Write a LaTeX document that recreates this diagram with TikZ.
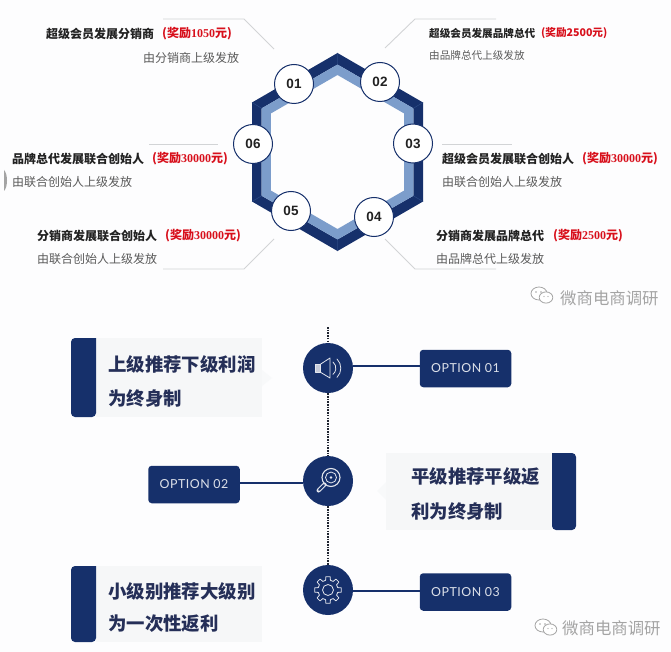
\documentclass[tikz,border=0pt]{standalone}
\usepackage{fontspec}
\setmainfont{Noto Sans CJK SC}
\newfontfamily\numfont{Liberation Serif}
\newfontfamily\badgefont{Liberation Sans}
\newfontfamily\optfont[LetterSpace=4]{Lato}
\definecolor{navy}{HTML}{16306B}
\definecolor{band}{HTML}{7C9DCB}
\definecolor{seam}{HTML}{2C4A85}
\definecolor{rule}{HTML}{D2D4D6}
\definecolor{pale}{HTML}{F6F7F8}
\definecolor{bgc}{HTML}{FDFDFE}
\definecolor{inkdark}{HTML}{222222}
\definecolor{inkgrey}{HTML}{5A5A5A}
\definecolor{inknavy}{HTML}{252F58}
\definecolor{reward}{HTML}{D8101C}
\definecolor{wm}{HTML}{A4A4A4}
\tikzset{
  head/.style={anchor=west,inner sep=0pt,font=\fontsize{12}{12}\selectfont\bfseries,text=inkdark},
  headsmall/.style={head,font=\fontsize{10.6}{12}\selectfont\bfseries},
  prize/.style={head,text=reward},
  prizesmall/.style={headsmall,text=reward},
  sub/.style={anchor=west,inner sep=0pt,font=\fontsize{12}{12}\selectfont,text=inkgrey},
  subsmall/.style={sub,font=\fontsize{10.6}{12}\selectfont},
  num/.style={circle,draw=navy,line width=1pt,fill=white,minimum size=39pt,inner sep=0pt,font=\badgefont\fontsize{13.5}{12}\selectfont\bfseries,text=inkdark},
  leader/.style={draw=rule,line width=0.9pt},
  hub/.style={circle,fill=navy,minimum size=50pt,inner sep=0pt},
  optbox/.style={rectangle,rounded corners=3.5pt,fill=navy,minimum width=91.5pt,minimum height=37.5pt,inner sep=0pt,text=white!85!navy,font=\optfont\fontsize{12.4}{12}\selectfont},
  link/.style={draw=navy,line width=1.3pt},
  spine/.style={draw=inkdark!80!navy,line width=1.8pt,dash pattern=on 1.6pt off 1.1pt},
  cardtext/.style={anchor=west,inner sep=0pt,font=\fontsize{18.4}{18}\selectfont\bfseries,text=inknavy},
  icon/.style={draw=white!88!navy,line width=0.8pt,line join=round,line cap=round},
  wmtext/.style={anchor=west,inner sep=0pt,font=\fontsize{16.4}{16}\selectfont,text=wm},
  wmicon/.style={draw=wm,line width=0.8pt,fill=white}
}
\newcommand{\rwd}[1]{(奖励{\numfont\bfseries #1}元)}
\newcommand{\wechat}[2]{%
  \draw[wmicon] (#1-3,#2-1.5) ellipse [x radius=8,y radius=6.5];
  \draw[wmicon] (#1+4,#2+2.5) ellipse [x radius=6.8,y radius=5.6];
  \fill[wm] (#1-6,#2-3) circle (0.8) (#1-1,#2-3) circle (0.8) (#1+2,#2+1.5) circle (0.7) (#1+6,#2+1.5) circle (0.7);
}
\begin{document}
\begin{tikzpicture}[x=1pt,y=-1pt]
\useasboundingbox (0,0) rectangle (671,652);
\fill[bgc] (0,0) rectangle (671,652);

% hexagon
\fill[navy,even odd rule] (337.5,53)--(423,102.5)--(423,201.5)--(337.5,251)--(252,201.5)--(252,102.5)--cycle
  (337.5,64.5)--(413.3,108.3)--(413.3,195.8)--(337.5,239.5)--(261.7,195.8)--(261.7,108.3)--cycle;
\fill[band,even odd rule] (337.5,64.5)--(413.3,108.3)--(413.3,195.8)--(337.5,239.5)--(261.7,195.8)--(261.7,108.3)--cycle
  (337.5,75)--(404.2,113.5)--(404.2,190.5)--(337.5,229)--(270.8,190.5)--(270.8,113.5)--cycle;
\draw[seam,line width=0.5pt] (337.5,53)--(337.5,64.5) (423,102.5)--(413.3,108.3) (423,201.5)--(413.3,195.8)
  (337.5,251)--(337.5,239.5) (252,201.5)--(261.7,195.8) (252,102.5)--(261.7,108.3);

% leaders
\coordinate (l1a) at (163,19); \coordinate (l1b) at (244,19); \coordinate (l1c) at (274,49);
\coordinate (l2a) at (385,48); \coordinate (l2b) at (415,19); \coordinate (l2c) at (496,19);
\coordinate (l3a) at (442,144); \coordinate (l3b) at (512,144);
\coordinate (l4a) at (385,239); \coordinate (l4b) at (415,269); \coordinate (l4c) at (496,269);
\coordinate (l5a) at (163,269); \coordinate (l5b) at (244,269); \coordinate (l5c) at (274,239);
\coordinate (l6a) at (149,144); \coordinate (l6b) at (218,144);
\draw[leader] (l1a)--(l1b)--(l1c);
\draw[leader] (l2a)--(l2b)--(l2c);
\draw[leader] (l3a)--(l3b);
\draw[leader] (l4a)--(l4b)--(l4c);
\draw[leader] (l5a)--(l5b)--(l5c);
\draw[leader] (l6a)--(l6b);

% number circles
\node[num] (n1) at (294,84) {01};
\node[num] (n2) at (380,82) {02};
\node[num] (n3) at (413,143.5) {03};
\node[num] (n4) at (374,217) {04};
\node[num] (n5) at (291,211) {05};
\node[num] (n6) at (253,144) {06};

% top labels
\node[head] (t1) at (46,34) {超级会员发展分销商};
\node[prize] (p1) at (162,34) {\rwd{1050}};
\node[sub] (s1) at (143,58) {由分销商上级发放};
\node[headsmall] (t2) at (429,33) {超级会员发展品牌总代};
\node[prizesmall] (p2) at (541,33) {(奖励2500元)};
\node[subsmall] (s2) at (429,55) {由品牌总代上级发放};
\node[head] (t3) at (442,159) {超级会员发展联合创始人};
\node[prize] (p3) at (582,159) {\rwd{30000}};
\node[sub] (s3) at (442,182) {由联合创始人上级发放};
\node[head] (t4) at (436,235.5) {分销商发展品牌总代};
\node[prize] (p4) at (553,235.5) {\rwd{2500}};
\node[sub] (s4) at (436,259) {由品牌总代上级发放};
\node[head] (t5) at (37,235.5) {分销商发展联合创始人};
\node[prize] (p5) at (165,235.5) {\rwd{30000}};
\node[sub] (s5) at (37,259) {由联合创始人上级发放};
\node[head] (t6) at (12,158.5) {品牌总代发展联合创始人};
\node[prize] (p6) at (152,158.5) {\rwd{30000}};
\node[sub] (s6) at (12,182) {由联合创始人上级发放};

% left-edge tab
\fill[wm] (4,170) .. controls (8,174) and (8,187) .. (4,191) -- cycle;

% watermarks
\wechat{542}{295}
\node[wmtext] (w1) at (560,298) {微商电商调研};
\wechat{546}{627}
\node[wmtext] (w2) at (562,628) {微商电商调研};

% timeline
\coordinate (top) at (328,327);
\node[hub] (h1) at (328,368) {};
\node[hub] (h2) at (328,481) {};
\node[hub] (h3) at (328,590) {};
\draw[spine] (top)--(h1);
\draw[spine] (h1)--(h2);
\draw[spine] (h2)--(h3);

\node[optbox] (o1) at (465.5,368.5) {OPTION 01};
\node[optbox] (o2) at (194,484.5) {OPTION 02};
\node[optbox] (o3) at (465.5,592) {OPTION 03};
\draw[link] (h1.east|-0,366)--(o1.west|-0,366);
\draw[link] (o2.east|-0,483)--(h2.west|-0,483);
\draw[link] (h3.east|-0,591)--(o3.west|-0,591);

% cards
\fill[pale] (96,338) rectangle (262,417);
\fill[pale!70!bgc] (262,370)--(272,378)--(262,386)--cycle;
\fill[navy,rounded corners=4pt] (96,338)--(71,338)--(71,417)--(96,417)[sharp corners]--cycle;
\node[cardtext] (c1a) at (108,364) {上级推荐下级利润};
\node[cardtext] (c1b) at (108,398) {为终身制};

\fill[pale] (386,453) rectangle (552,530);
\fill[pale!70!bgc] (386,482)--(377,491)--(386,500)--cycle;
\fill[navy,rounded corners=4pt] (552,453)--(576,453)--(576,530)--(552,530)[sharp corners]--cycle;
\node[cardtext] (c2a) at (411,476) {平级推荐平级返};
\node[cardtext] (c2b) at (411,511) {利为终身制};

\fill[pale] (96,566) rectangle (262,642);
\fill[navy,rounded corners=4pt] (96,566)--(71,566)--(71,642)--(96,642)[sharp corners]--cycle;
\node[cardtext] (c3a) at (108,591) {小级别推荐大级别};
\node[cardtext] (c3b) at (108,624) {为一次性返利};

% speaker icon
\begin{scope}[shift={(h1.center)}]
\draw[icon,fill=white!75!navy] (-13,-3.5) rectangle (-8,4);
\draw[icon] (-8,-3.5)--(2,-10)--(2,10)--(-8,4);
\draw[icon] (5,-6) arc [start angle=-50,end angle=50,radius=8];
\draw[icon] (9,-9) arc [start angle=-45,end angle=45,radius=13];
\end{scope}
% magnifier icon
\begin{scope}[shift={(h2.center)}]
\draw[icon,line width=1.1pt] (3,-3.5) circle (9);
\draw[icon] (3,-3.5) circle (5.5);
\fill[white!88!navy] (3,-3.5) circle (1.3);
\draw[icon,line width=4pt] (-3.5,3.5)--(-9.5,9.5);
\draw[navy,line width=2pt,line cap=round] (-4,4)--(-9,9);
\end{scope}
% gear icon
\begin{scope}[shift={(h3.center)}]
\draw[icon] (0,0) circle (5.5);
\draw[icon] (-14:10) \foreach \a in {0,45,...,315} {
  -- ({\a-14}:10) -- ({\a-9}:13.5) -- ({\a+9}:13.5) -- ({\a+14}:10)
} -- cycle;
\end{scope}
\end{tikzpicture}
\end{document}
